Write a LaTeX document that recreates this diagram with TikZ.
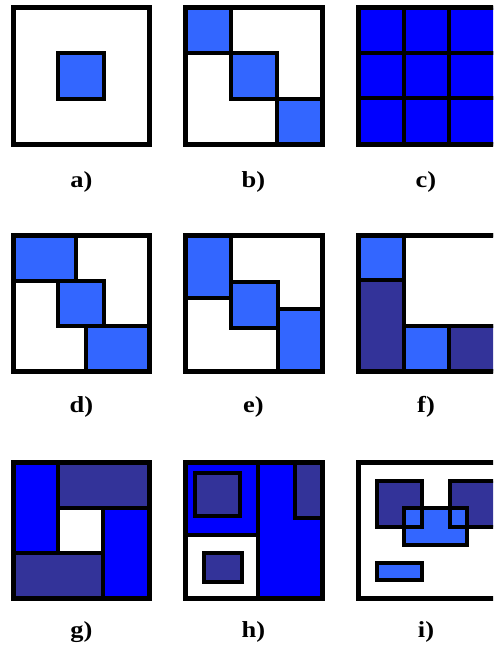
\documentclass[tikz,border=0pt]{standalone}
\usepackage{fontspec}
\setmainfont{Liberation Serif}
\definecolor{lightblue}{HTML}{3366FF}
\definecolor{pureblue}{HTML}{0000FF}
\definecolor{darkblue}{HTML}{333399}
\tikzset{
  frame style/.style={draw=black, line width=5pt},
  cell style/.style={draw=black, line width=4pt},
  lbl style/.style={anchor=base, xscale=1.15, font=\fontsize{23}{26}\selectfont\bfseries}
}

\begin{document}
\begin{tikzpicture}[x=1pt, y=-1pt]
\useasboundingbox (0,0) rectangle (493,650);
\clip (0,0) rectangle (493,650);
% a) single block
\draw[frame style, fill=white] (13.5,8) rectangle (149.5,144);
\draw[cell style, fill=lightblue] (58,53) rectangle (104,99);
% b) diagonal blocks
\draw[cell style, fill=lightblue] (185,8) rectangle (231,53);
\draw[cell style, fill=lightblue] (231,53) rectangle (277,99);
\draw[cell style, fill=lightblue] (277,99) rectangle (322,144);
\draw[frame style] (185,8) rectangle (322,144);
% c) full grid
\foreach \cx in {358,403.5,449}
  \foreach \cy in {8,53,98.5}
    \draw[cell style, fill=pureblue] (\cx,\cy) rectangle ++(46.5,45.5);
\draw[frame style] (358,8) rectangle (496,144);
% d) overlapping diagonal
\draw[cell style, fill=lightblue] (13.5,235) rectangle (76,281);
\draw[cell style, fill=lightblue] (58,281) rectangle (104,326);
\draw[cell style, fill=lightblue] (85.5,326) rectangle (149,371);
\draw[frame style] (13.5,235) rectangle (149,371);
% e) staggered diagonal
\draw[cell style, fill=lightblue] (185,235) rectangle (231,298);
\draw[cell style, fill=lightblue] (231,282) rectangle (277.5,327.5);
\draw[cell style, fill=lightblue] (277.5,309) rectangle (322,371);
\draw[frame style] (185,235) rectangle (322,371);
% f) L shape
\draw[cell style, fill=white] (403.5,235) rectangle (496,325.5);
\draw[cell style, fill=lightblue] (358,235) rectangle (403.5,280);
\draw[cell style, fill=darkblue] (358,280) rectangle (403.5,371);
\draw[cell style, fill=lightblue] (403.5,325.5) rectangle (449,371);
\draw[cell style, fill=darkblue] (449,325.5) rectangle (496,371);
\draw[frame style] (358,235) rectangle (496,371);
% g) pinwheel
\draw[cell style, fill=white] (57.5,507.5) rectangle (103,552.5);
\draw[cell style, fill=pureblue] (13.5,462) rectangle (57.5,552.5);
\draw[cell style, fill=darkblue] (57.5,462) rectangle (149,507.5);
\draw[cell style, fill=pureblue] (103,507.5) rectangle (149,598);
\draw[cell style, fill=darkblue] (13.5,552.5) rectangle (103,598);
\draw[frame style] (13.5,462) rectangle (149,598);
% h) nested regions
\draw[cell style, fill=pureblue] (185,462) rectangle (258,535);
\draw[cell style, fill=white] (185,535) rectangle (258,598);
\draw[cell style, fill=pureblue] (258,462) rectangle (322,598);
\draw[cell style, fill=darkblue] (195,473) rectangle (240,515.5);
\draw[cell style, fill=darkblue] (295,462) rectangle (322,518);
\draw[cell style, fill=darkblue] (204,553) rectangle (241.5,581.5);
\draw[frame style] (185,462) rectangle (322,598);
% i) free blocks
\draw[frame style, fill=white] (358,462) rectangle (496,598);
\fill[darkblue] (377,481) rectangle (422,527);
\fill[darkblue] (449.5,481) rectangle (496,527);
\fill[lightblue] (403.5,508) rectangle (467,545);
\draw[cell style] (377,481) rectangle (422,527);
\draw[cell style] (449.5,481) rectangle (496,527);
\draw[cell style] (403.5,508) rectangle (467,545);
\draw[cell style, fill=lightblue] (377,563) rectangle (422,580);
% labels
\node[lbl style] (la) at (81.5,187) {a)};
\node[lbl style] (lb) at (253.5,187) {b)};
\node[lbl style] (lc) at (426,187) {c)};
\node[lbl style] (ld) at (81.5,412) {d)};
\node[lbl style] (le) at (253.5,412) {e)};
\node[lbl style] (lf) at (426,412) {f)};
\node[lbl style] (lg) at (81.5,637) {g)};
\node[lbl style] (lh) at (253.5,637) {h)};
\node[lbl style] (li) at (426,637) {i)};
\end{tikzpicture}
\end{document}
